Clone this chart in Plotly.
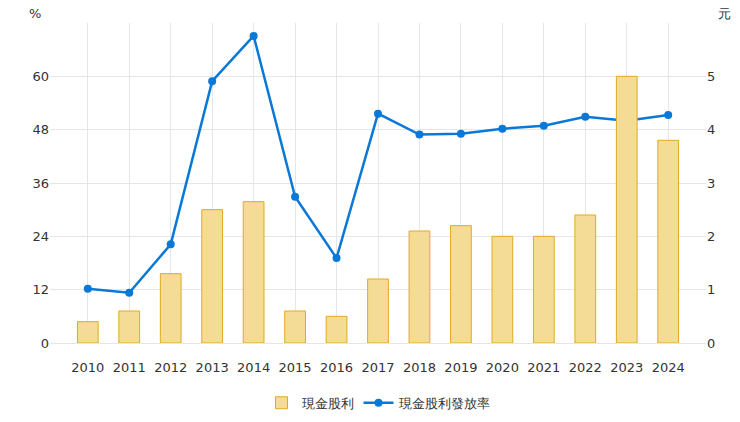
import plotly.graph_objects as go

years = [str(y) for y in range(2010, 2025)]
cash_dividend = [0.4, 0.6, 1.3, 2.5, 2.65, 0.6, 0.5, 1.2, 2.1, 2.2, 2.0, 2.0, 2.4, 5.0, 3.8]
payout_ratio = [12.2, 11.3, 22.2, 58.9, 69.1, 32.9, 19.1, 51.6, 46.9, 47.1, 48.2, 48.9, 50.9, 50.0, 51.3]

fig = go.Figure()
fig.add_bar(x=years, y=cash_dividend, name="現金股利", yaxis="y2",
            marker=dict(color="rgba(245,220,150,1)", line=dict(color="#e0aa20", width=1)),
            width=0.5)
fig.add_scatter(x=years, y=payout_ratio, name="現金股利發放率", mode="lines+markers",
                line=dict(color="#0a78d7", width=2.5), marker=dict(size=8, color="#0a78d7"))

fig.update_layout(
    width=740, height=422, margin=dict(l=42, r=42, t=15, b=64),
    paper_bgcolor="white", plot_bgcolor="white",
    font=dict(family="DejaVu Sans", size=13, color="#333"),
    showlegend=True,
    legend=dict(orientation="h", x=0.5, xanchor="center", y=-0.14, yanchor="top",
                traceorder="normal"),
    xaxis=dict(showgrid=True, gridcolor="#e6e6e6", ticks="", linecolor="#e6e6e6",
               ticklabelstandoff=12),
    yaxis=dict(range=[0, 72], tickvals=[0, 12, 24, 36, 48, 60], gridcolor="#e6e6e6",
               zeroline=True, zerolinecolor="#e8a0a0", zerolinewidth=1),
    yaxis2=dict(range=[0, 6.0], tickvals=[0, 1, 2, 3, 4, 5], overlaying="y", side="right",
                showgrid=False, zeroline=False),
    annotations=[
        dict(text="%", xref="paper", yref="paper", x=-0.01, y=1.0, showarrow=False, xanchor="right", yanchor="bottom", font=dict(size=13)),
        dict(text="元", xref="paper", yref="paper", x=1.015, y=1.0, showarrow=False, xanchor="left", yanchor="bottom", font=dict(size=13)),
    ],
)
fig.write_html("out.html")
